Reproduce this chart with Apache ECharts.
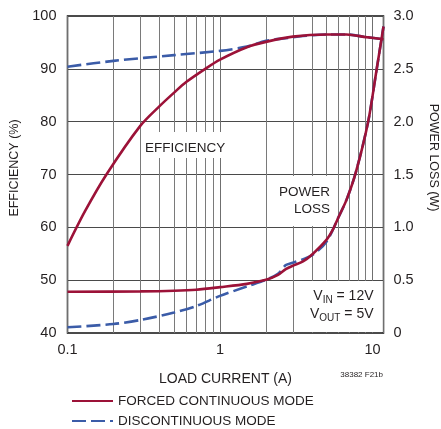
<!DOCTYPE html>
<html>
<head>
<meta charset="utf-8">
<script src="https://cdn.jsdelivr.net/npm/echarts@6/dist/echarts.min.js"></script>
<style>
html, body { margin: 0; padding: 0; background: #fff; }
#main { width: 441px; height: 429px; }
</style>
</head>
<body>
<div id="main"></div>
<script>
// load current (A) and readings
var loadEffFcm = [0.1, 0.13, 0.18, 0.3, 0.4, 0.5, 0.6, 0.8, 1.0, 1.5, 2.0, 3.0, 5.0, 6.75, 9.1, 11.8];
var effFcm = [56.5, 63, 70, 79.2, 82.9, 85.5, 87.5, 90, 91.75, 94.1, 95.1, 96.1, 96.5, 96.5, 96.0, 95.6];

var loadEffDcm = [0.1, 0.2, 0.5, 1.0, 1.5, 2.0, 2.7, 3.5, 5.0, 6.75, 9.1, 11.8];
var effDcm = [90.4, 91.5, 92.6, 93.4, 94.2, 95.3, 95.8, 96.2, 96.5, 96.5, 96.0, 95.6];

var loadLossFcm = [0.1, 0.3, 0.5, 0.7, 1, 1.5, 2, 2.4, 2.7, 3, 3.5, 4, 5, 5.5, 6, 6.75, 7.77, 9.36, 10.6, 11.8];
var lossFcm = [0.39, 0.394, 0.40, 0.41, 0.434, 0.465, 0.503, 0.55, 0.605, 0.636, 0.677, 0.74, 0.883, 0.98, 1.10, 1.26, 1.52, 2.0, 2.48, 2.9];

var loadLossDcm = [0.1, 0.2, 0.3, 0.5, 0.7, 1, 1.5, 2, 2.4, 2.7, 3, 4, 5, 6, 6.75, 7.77, 9.36, 10.6, 11.8];
var lossDcm = [0.054, 0.085, 0.123, 0.193, 0.256, 0.351, 0.44, 0.503, 0.56, 0.643, 0.665, 0.735, 0.867, 1.10, 1.26, 1.52, 2.0, 2.48, 2.9];

var minorLoads = [0.2, 0.3, 0.4, 0.5, 0.6, 0.7, 0.8, 0.9, 2, 3, 4, 5, 6, 7, 8, 9];

var RED = "#9c1238", BLUE = "#3b5ca8", INK = "#231f20";
var FONT = "'Liberation Sans', Arial, sans-serif";

function pairs(xs, ys) {
    return xs.map(function(x, i) { return [x, ys[i]]; });
}

var cnv = document.createElement("canvas").getContext("2d");
function textW(str, size) {
    cnv.font = size + "px " + FONT;
    return cnv.measureText(str).width;
}

// V_IN / V_OUT note, laid out right-aligned
function noteLine(main, sub, rest, right, ym) {
    var wr = textW(rest, 14), ws = textW(sub, 10), wm = textW(main, 14);
    var st = { fill: INK, verticalAlign: "middle", align: "left" };
    return [
        { type: "text", z: 4, style: Object.assign({ text: main, x: right - wr - ws - wm, y: ym, font: "14px " + FONT }, st) },
        { type: "text", z: 4, style: Object.assign({ text: sub, x: right - wr - ws, y: ym + 4, font: "10px " + FONT }, st) },
        { type: "text", z: 4, style: Object.assign({ text: rest, x: right - wr, y: ym, font: "14px " + FONT }, st) }
    ];
}

function lineSeries(name, yIdx, xs, ys, color, dashed) {
    return {
        name: name, type: "line", yAxisIndex: yIdx, z: dashed ? 3 : 4,
        data: pairs(xs, ys), smooth: 0.3, symbol: "none",
        lineStyle: { color: color, width: 2.6, type: dashed ? [14, 5] : "solid" },
        itemStyle: { color: color }
    };
}

var chart = echarts.init(document.getElementById("main"));

var series = [
    lineSeries("DISCONTINUOUS MODE", 0, loadEffDcm, effDcm, BLUE, true),
    lineSeries("DISCONTINUOUS MODE", 1, loadLossDcm, lossDcm, BLUE, true),
    lineSeries("FORCED CONTINUOUS MODE", 0, loadEffFcm, effFcm, RED, false),
    lineSeries("FORCED CONTINUOUS MODE", 1, loadLossFcm, lossFcm, RED, false)
];
// minor decade lines (2..9) hang off the first series
series[0].markLine = {
    z: 1, silent: true, symbol: "none", label: { show: false },
    lineStyle: { color: "#7a7a7a", width: 1, type: "solid" },
    emphasis: { disabled: true },
    data: minorLoads.map(function(v) { return { xAxis: v }; })
};

var option = {
    animation: false,
    grid: {
        left: 67.5, right: 57.5, top: 16, bottom: 96,
        outerBoundsMode: "none",
        show: true, borderColor: "#111", borderWidth: 1.5
    },
    legend: {
        orient: "vertical", left: 71, top: 394, padding: 0,
        itemWidth: 41, itemHeight: 14, itemGap: 6,
        selectedMode: false,
        itemStyle: { opacity: 0 },
        textStyle: { fontSize: 13.5, fontFamily: FONT, color: INK },
        data: ["FORCED CONTINUOUS MODE", "DISCONTINUOUS MODE"]
    },
    xAxis: {
        type: "log", logBase: 10, min: 0.1, max: 11.8,
        axisLine: { show: false }, axisTick: { show: false },
        splitLine: { show: true, lineStyle: { color: "#6f6f6f", width: 1 } },
        axisLabel: {
            fontSize: 14.5, fontFamily: FONT, color: INK, margin: 9,
            formatter: function(v) {
                var l = Math.log(v) / Math.LN10;
                return Math.abs(l - Math.round(l)) < 1e-6 ? String(Math.round(v * 10) / 10) : "";
            }
        },
        name: "LOAD CURRENT (A)", nameLocation: "middle", nameGap: 39,
        nameTextStyle: { fontSize: 14, fontFamily: FONT, color: INK }
    },
    yAxis: [ {
        type: "value", min: 40, max: 100, interval: 10, position: "left",
        axisLine: { show: false }, axisTick: { show: false },
        splitLine: { lineStyle: { color: "#4a4a4a", width: 1.2 } },
        axisLabel: { fontSize: 14.5, fontFamily: FONT, color: INK, margin: 11 },
        name: "EFFICIENCY (%)", nameLocation: "middle", nameGap: 45, nameRotate: 90,
        nameTextStyle: { fontSize: 12.5, fontFamily: FONT, color: INK, padding: [0, 0, 0, 13] }
    }, {
        type: "value", min: 0, max: 3, interval: 0.5, position: "right",
        axisLine: { show: false }, axisTick: { show: false },
        splitLine: { show: false },
        axisLabel: {
            fontSize: 14.5, fontFamily: FONT, color: INK, margin: 10,
            formatter: function(v) { return v === 0 ? "0" : v.toFixed(1); }
        },
        name: "POWER LOSS (W)", nameLocation: "middle", nameGap: 43, nameRotate: -90,
        nameTextStyle: { fontSize: 12.5, fontFamily: FONT, color: INK, padding: [0, 34, 0, 0] }
    } ],
    series: series,
    graphic: [
        { type: "rect", z: 2, shape: { x: 143, y: 132, width: 81, height: 26 }, style: { fill: "#fff" } },
        { type: "rect", z: 2, shape: { x: 276, y: 176, width: 57, height: 50 }, style: { fill: "#fff" } },
        { type: "rect", z: 2, shape: { x: 302, y: 281, width: 80.5, height: 51 }, style: { fill: "#fff" } },
        { type: "text", z: 4, style: { text: "EFFICIENCY", x: 145, y: 148, font: "13.5px " + FONT, fill: INK, align: "left", verticalAlign: "middle" } },
        { type: "text", z: 4, style: { text: "POWER", x: 330, y: 192, font: "13.5px " + FONT, fill: INK, align: "right", verticalAlign: "middle" } },
        { type: "text", z: 4, style: { text: "LOSS", x: 330, y: 209, font: "13.5px " + FONT, fill: INK, align: "right", verticalAlign: "middle" } },
        { type: "text", z: 4, style: { text: "38382 F21b", x: 383, y: 375, font: "8px " + FONT, fill: INK, align: "right", verticalAlign: "middle" } }
    ].concat(noteLine("V", "IN", " = 12V", 373.5, 296.5), noteLine("V", "OUT", " = 5V", 373.5, 314))
};

chart.setOption(option);
</script>
</body>
</html>
